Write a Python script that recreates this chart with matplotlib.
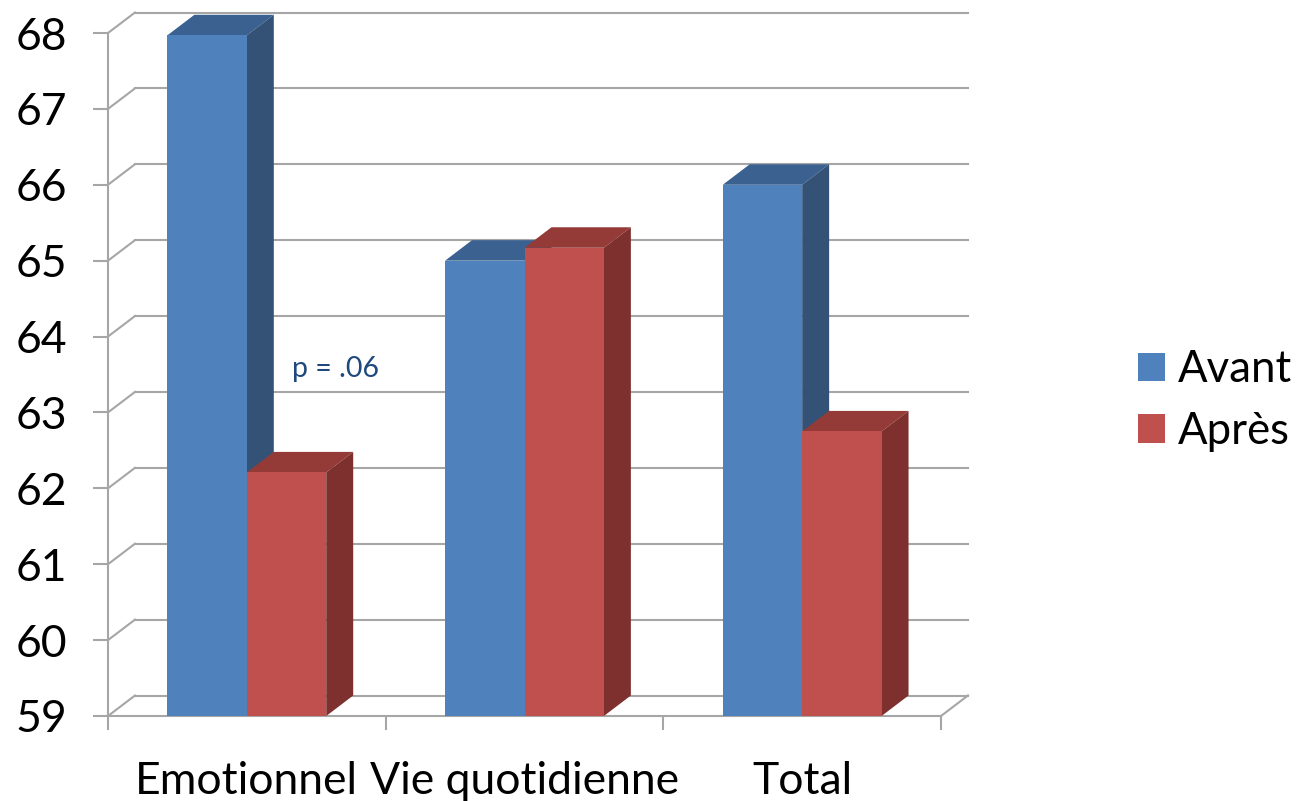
#!/usr/bin/env python3
import matplotlib
matplotlib.use("Agg")
import matplotlib.pyplot as plt
from matplotlib.patches import Patch, Polygon

categories = ["Emotionnel", "Vie quotidienne", "Total"]
avant = [67.97, 65.0, 66.0]
apres = [62.21, 65.17, 62.75]
series_names = ["Avant", "Après"]
yticks = list(range(59, 69))
annotation = "p = .06"

FRONT = {"Avant": "#4F81BD", "Après": "#C0504D"}
TOP = {"Avant": "#3A6190", "Après": "#943B38"}
SIDE = {"Avant": "#335275", "Après": "#7E302E"}
GRID = "#A6A6A6"

# depth of the box and bars, in axis units
DEPTH_X = 27 / 278
DEPTH_Y = 20.5 / 75.9
BAR_W = 79.5 / 278

plt.rcParams["font.family"] = ["Lato", "DejaVu Sans"]


def draw_bar(ax, x, value, name):
    ybase = yticks[0]
    ax.bar(x, value - ybase, BAR_W, bottom=ybase, align="edge",
           color=FRONT[name], zorder=4, clip_on=False)
    top = [(x, value), (x + BAR_W, value),
           (x + BAR_W + DEPTH_X, value + DEPTH_Y), (x + DEPTH_X, value + DEPTH_Y)]
    side = [(x + BAR_W, ybase), (x + BAR_W + DEPTH_X, ybase + DEPTH_Y),
            (x + BAR_W + DEPTH_X, value + DEPTH_Y), (x + BAR_W, value)]
    ax.add_patch(Polygon(top, color=TOP[name], lw=0, zorder=3, clip_on=False))
    ax.add_patch(Polygon(side, color=SIDE[name], lw=0, zorder=3, clip_on=False))


fig = plt.figure(figsize=(12.96, 8.01), dpi=100)
ax = fig.add_axes([108 / 1296, 1 - 716 / 801, 833 / 1296, 683 / 801])
ax.set_xlim(0, len(categories))
ax.set_ylim(yticks[0], yticks[-1])

for s in ["top", "right"]:
    ax.spines[s].set_visible(False)
for s in ["left", "bottom"]:
    ax.spines[s].set_color(GRID)
    ax.spines[s].set_linewidth(1.5)

# back wall gridlines and the diagonals joining them to the front axis
for v in yticks:
    ax.plot([DEPTH_X, len(categories) + DEPTH_X], [v + DEPTH_Y, v + DEPTH_Y],
            color=GRID, lw=1.5, zorder=1, clip_on=False)
    ax.plot([0, DEPTH_X], [v, v + DEPTH_Y], color=GRID, lw=1.5, zorder=1, clip_on=False)
ax.plot([len(categories), len(categories) + DEPTH_X], [yticks[0], yticks[0] + DEPTH_Y],
        color=GRID, lw=1.5, zorder=1, clip_on=False)

for i, (a, b) in enumerate(zip(avant, apres)):
    draw_bar(ax, i + 0.5 - BAR_W, a, "Avant")
    draw_bar(ax, i + 0.5, b, "Après")

ax.set_yticks(yticks)
ax.set_xticks(range(len(categories) + 1))
ax.set_xticks([i + 0.5 for i in range(len(categories))], categories, minor=True)
ax.tick_params(axis="x", which="major", length=10, width=1.5, color=GRID, labelbottom=False)
ax.tick_params(axis="x", which="minor", length=0, labelsize=32, pad=32.5)
ax.tick_params(axis="y", length=11, width=1.5, color=GRID, labelsize=32, pad=18.5)

ax.text(0.662, 63.57, annotation, color="#1F497D", fontsize=20.5, va="center", ha="left", zorder=5)

handles = [Patch(color=FRONT[n], lw=0, label=n) for n in series_names]
fig.legend(handles=handles, loc="center left", bbox_to_anchor=(1138 / 1296, 1 - 400.5 / 801),
           frameon=False, fontsize=31.5, handlelength=0.62, handleheight=0.62,
           handletextpad=0.3, labelspacing=0.47, borderpad=0, borderaxespad=0)

fig.savefig("out.png", dpi=100)
